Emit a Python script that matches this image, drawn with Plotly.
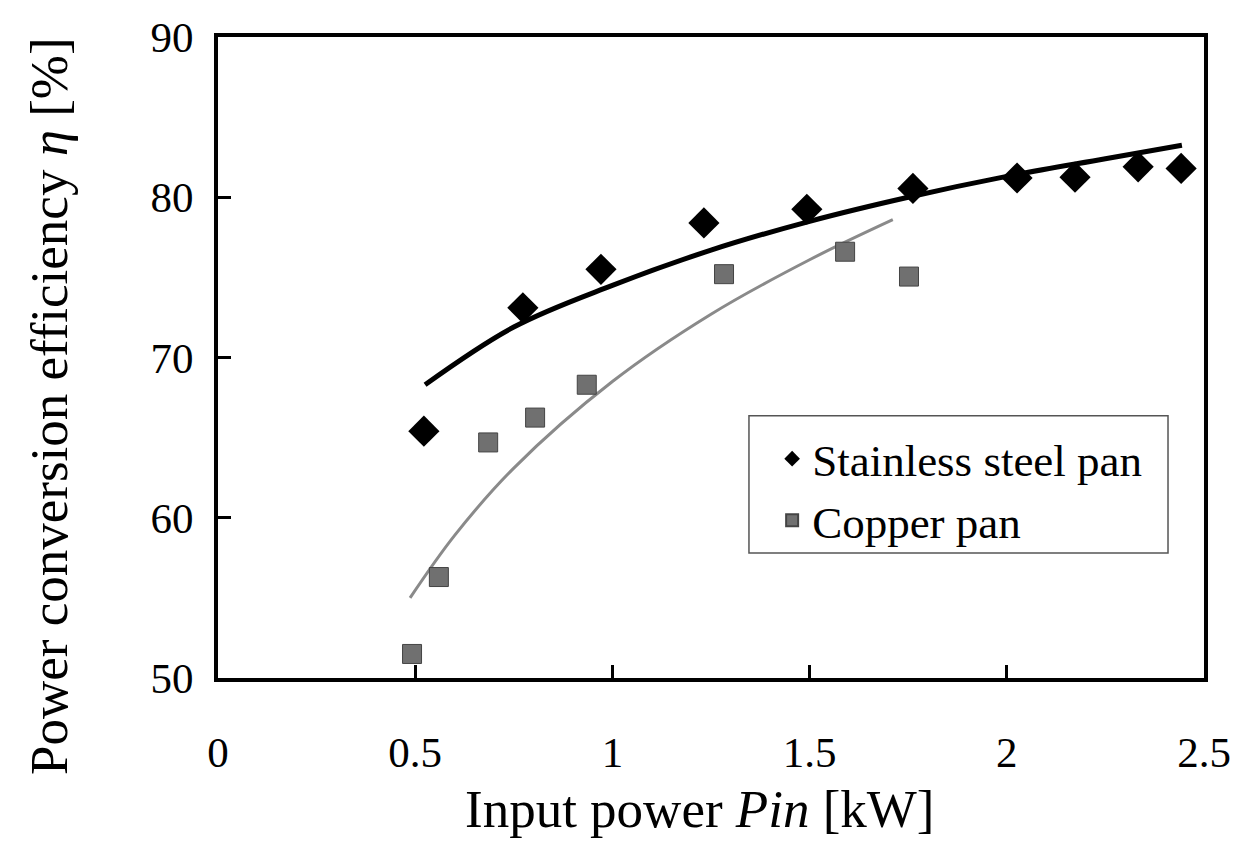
import plotly.graph_objects as go

# Measured data
ss_x = [0.522, 0.773, 0.971, 1.232, 1.493, 1.762, 2.026, 2.173, 2.333, 2.442]
ss_y = [65.4, 73.1, 75.5, 78.4, 79.25, 80.55, 81.2, 81.25, 81.9, 81.8]

cu_x = [0.492, 0.560, 0.685, 0.804, 0.935, 1.283, 1.590, 1.752]
cu_y = [51.5, 56.3, 64.7, 66.25, 68.3, 75.2, 76.6, 75.05]

# Trend lines
ss_fit_x = [0.525, 0.75, 1.0, 1.25, 1.5, 1.75, 2.0, 2.25, 2.444]
ss_fit_y = [68.3, 71.9, 74.5, 76.7, 78.5, 80.0, 81.3, 82.4, 83.25]

cu_fit_x = [0.487, 0.6, 0.75, 1.0, 1.25, 1.5, 1.711]
cu_fit_y = [55.0, 58.9, 63.1, 68.5, 72.7, 76.1, 78.6]

x_ticks = [0, 0.5, 1, 1.5, 2, 2.5]
x_tick_text = ["0", "0.5", "1", "1.5", "2", "2.5"]
y_ticks = [50, 60, 70, 80, 90]

FONT = "Liberation Serif"

fig = go.Figure()

fig.add_trace(go.Scatter(
    x=ss_fit_x, y=ss_fit_y, mode="lines", line=dict(color="black", width=5, shape="spline"),
    showlegend=False, hoverinfo="skip"))
fig.add_trace(go.Scatter(
    x=cu_fit_x, y=cu_fit_y, mode="lines", line=dict(color="#8a8a8a", width=3, shape="spline"),
    showlegend=False, hoverinfo="skip"))

fig.add_trace(go.Scatter(
    x=ss_x, y=ss_y, mode="markers", name="Stainless steel pan", legendgroup="a",
    marker=dict(symbol="diamond", size=24, color="black", line=dict(width=0))))
fig.add_trace(go.Scatter(
    x=cu_x, y=cu_y, mode="markers", name="Copper pan", legendgroup="b",
    marker=dict(symbol="square", size=19, color="#707070", line=dict(width=1, color="#444"))))

fig.update_layout(
    width=1259, height=847,
    margin=dict(l=218, r=55, t=37, b=169),
    plot_bgcolor="white", paper_bgcolor="white",
    font=dict(family=FONT, color="black", size=36),
    showlegend=True,
    legend=dict(
        x=0.562, y=0.398, xanchor="left", yanchor="top",
        bgcolor="rgba(0,0,0,0)", borderwidth=0,
        font=dict(family=FONT, size=45, color="black"),
        tracegroupgap=0, itemsizing="constant",
    ),
    shapes=[
        dict(type="rect", xref="paper", yref="paper",
             x0=0.5385, x1=0.9635, y0=0.195, y1=0.409,
             line=dict(color="#555", width=1.5), fillcolor="white", layer="below"),
    ],
    annotations=[
        dict(text="Input power <i>Pin</i> [kW]", xref="paper", yref="paper",
             x=0.489, y=-0.205, xanchor="center", yanchor="middle", showarrow=False,
             font=dict(family=FONT, size=53, color="black")),
        dict(text="Power conversion efficiency <i>η</i> [%]", xref="paper", yref="paper",
             x=-0.172, y=0.425, xanchor="center", yanchor="middle", showarrow=False,
             textangle=-90, font=dict(family=FONT, size=53, color="black")),
    ],
)

fig.update_xaxes(
    range=[0, 2.5], tickvals=x_ticks, ticktext=x_tick_text,
    showline=True, linecolor="black", linewidth=4, mirror=True,
    ticks="inside", ticklen=13, tickwidth=3, tickcolor="black",
    showgrid=False, zeroline=False, ticklabelstandoff=33,
    tickfont=dict(family=FONT, size=43),
)
fig.update_yaxes(
    range=[50, 90], tickvals=y_ticks,
    showline=True, linecolor="black", linewidth=4, mirror=True,
    ticks="inside", ticklen=13, tickwidth=3, tickcolor="black",
    showgrid=False, zeroline=False, ticklabelstandoff=12,
    tickfont=dict(family=FONT, size=43),
)

fig.write_html("out.html")
